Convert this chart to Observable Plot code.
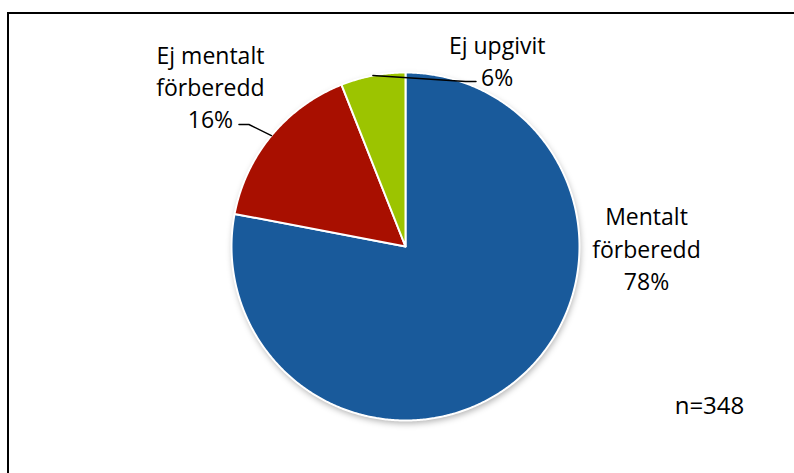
<!DOCTYPE html>
<html><head><meta charset="utf-8">
<script src="https://cdn.jsdelivr.net/npm/d3@7"></script>
<script src="https://cdn.jsdelivr.net/npm/@observablehq/plot@0.6"></script>
<style>
body{margin:0;background:#fff;}
#wrap{position:relative;width:794px;height:473px;overflow:hidden;background:#fff;}
#wrap svg{position:absolute;left:0;top:0;}
#frame{position:absolute;left:7px;top:12px;width:800px;height:480px;border-top:2px solid #000;border-left:2px solid #000;}
</style></head><body><div id="wrap"></div>
<script>
// ---- data ----
const categories = ["Mentalt förberedd", "Ej mentalt förberedd", "Ej upgivit"];
const labelTexts = ["Mentalt\nförberedd\n78%", "Ej mentalt\nförberedd\n16%", "Ej upgivit\n6%"];
const percents = [78, 16, 6];
const n = 348;

// ---- styles / layout (units of pie radius, y up) ----
const sliceColors = ["#195A9B", "#A80F00", "#9CC400"];
const labelPos = [[1.385, -0.005], [-1.121, 0.925], [0.527, 1.072]];
const leaderBends = [null, [[-0.90, 0.701], [-0.957, 0.701]], [[0.345, 0.948], [0.405, 0.948]]];
const nPos = [1.747, -0.92];

const total = d3.sum(percents);
const ends = d3.cumsum(percents).map(v => v / total * 360);
const starts = ends.map((e, i) => e - percents[i] / total * 360);
const pt = (deg, r = 1) => ({x: r * Math.sin(deg * Math.PI / 180), y: r * Math.cos(deg * Math.PI / 180)});

const slicePts = [];
categories.forEach((cat, i) => {
  slicePts.push({cat, ...pt(0, 0)});
  for (let a = starts[i]; a < ends[i]; a += 0.5) slicePts.push({cat, ...pt(a)});
  slicePts.push({cat, ...pt(ends[i])});
  slicePts.push({cat, ...pt(0, 0)});
});
const shadowPts = d3.range(0, 360.5, 1).map(a => pt(a));

const leaderPts = [];
categories.forEach((cat, i) => {
  if (!leaderBends[i]) return;
  const mid = (starts[i] + ends[i]) / 2;
  leaderPts.push({cat, ...pt(mid)});
  leaderBends[i].forEach(([x, y]) => leaderPts.push({cat, x, y}));
});

const labels = categories.map((cat, i) => ({cat, text: labelTexts[i], x: labelPos[i][0], y: labelPos[i][1]}));

const plot = Plot.plot({
  width: 794, height: 473, margin: 0,
  x: {domain: [-1, 1], range: [231, 579], axis: null},
  y: {domain: [-1, 1], range: [420, 72], axis: null},
  color: {domain: categories, range: sliceColors},
  style: {fontFamily: "'Open Sans', sans-serif", background: "transparent", overflow: "visible"},
  marks: [
    Plot.line(shadowPts, {x: "x", y: "y", fill: "#000", fillOpacity: 0.3, stroke: "none", dx: 1, dy: 3}),
    Plot.line(slicePts, {x: "x", y: "y", z: "cat", fill: "cat", stroke: "white", strokeWidth: 2, strokeLinejoin: "round"}),
    Plot.line(leaderPts, {x: "x", y: "y", z: "cat", stroke: "#000", strokeWidth: 1.5}),
    Plot.text(labels, {x: "x", y: "y", text: "text", fontSize: 23, lineAnchor: "middle", lineHeight: 1.4, fill: "#000"}),
    Plot.text([`n=${n}`], {x: () => nPos[0], y: () => nPos[1], text: d => d, fontSize: 24, fill: "#000"})
  ]
});
const wrap = document.getElementById("wrap");
wrap.appendChild(plot);
const shadow = plot.querySelector('g[aria-label="line"] path');
if (shadow) shadow.style.filter = "blur(3px)";
const frame = document.createElement("div");
frame.id = "frame";
wrap.appendChild(frame);
</script></body></html>
